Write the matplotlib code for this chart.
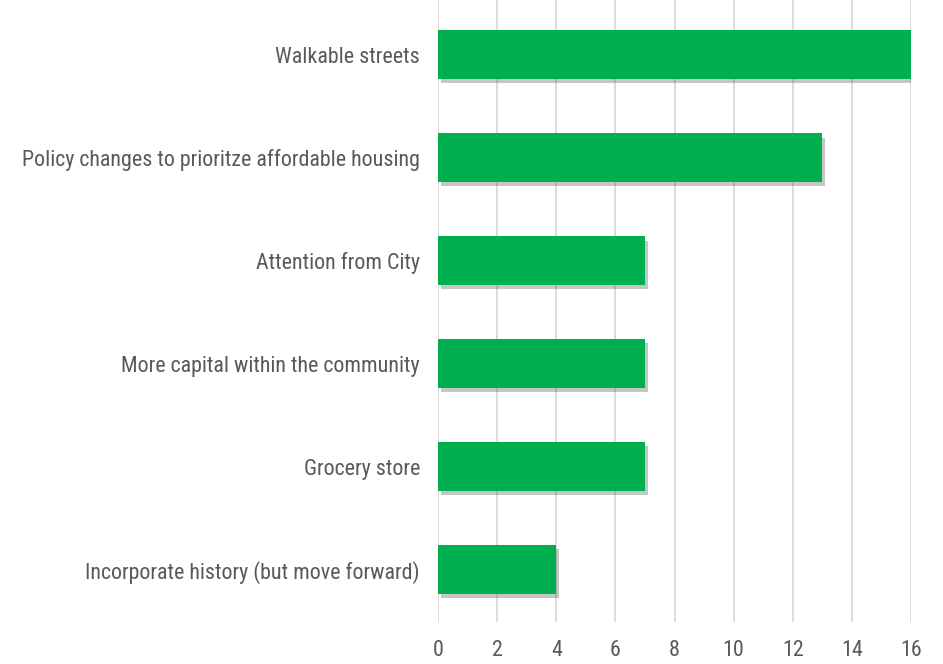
import matplotlib
matplotlib.use("Agg")
import matplotlib.pyplot as plt
import matplotlib.patheffects as pe
from matplotlib import font_manager

categories = ["Walkable streets",
              "Policy changes to prioritze affordable housing",
              "Attention from City",
              "More capital within the community",
              "Grocery store",
              "Incorporate history (but move forward)"]
values = [16, 13, 7, 7, 7, 4]
xticks = [0, 2, 4, 6, 8, 10, 12, 14, 16]

names = {f.name for f in font_manager.fontManager.ttflist}
fam = "DejaVu Sans"
for cand in ["Liberation Sans Narrow", "Roboto Condensed", "Noto Sans Condensed",
             "Open Sans Condensed", "DejaVu Sans Condensed", "Liberation Sans"]:
    if cand in names:
        fam = cand
        break
plt.rcParams['font.family'] = [fam, 'DejaVu Sans']

fig = plt.figure(figsize=(9.43, 6.64), dpi=100)
ax = fig.add_axes([438/943, 1 - 622/664, 473/943, 622/664])

pos = list(range(len(categories)))
bars = ax.barh(pos, values, height=0.47, color="#00B050", zorder=3)
for b in bars:
    b.set_path_effects([pe.SimplePatchShadow(offset=(2, -3), shadow_rgbFace="#444444", alpha=0.3),
                        pe.Normal()])

ax.set_ylim(5.51, -0.53)
ax.set_xlim(0, 16)
ax.set_xticks(xticks)
ax.set_yticks(pos)
ax.set_yticklabels(categories)
ax.grid(axis="x", color="#d9d9d9", linewidth=1.3, zorder=0)
for s in ax.spines.values():
    s.set_visible(False)
ax.tick_params(axis="both", length=0, labelsize=15, labelcolor="#595959")
ax.tick_params(axis="y", pad=13)
ax.tick_params(axis="x", pad=13)

# fit the widest label to the width seen in the reference (~400 px)
fig.canvas.draw()
r = fig.canvas.get_renderer()
w = max(t.get_window_extent(r).width for t in ax.get_yticklabels())
size = 15 * 400.0 / w
ax.tick_params(axis="both", labelsize=min(size, 18))

fig.savefig("out.png", dpi=100)
